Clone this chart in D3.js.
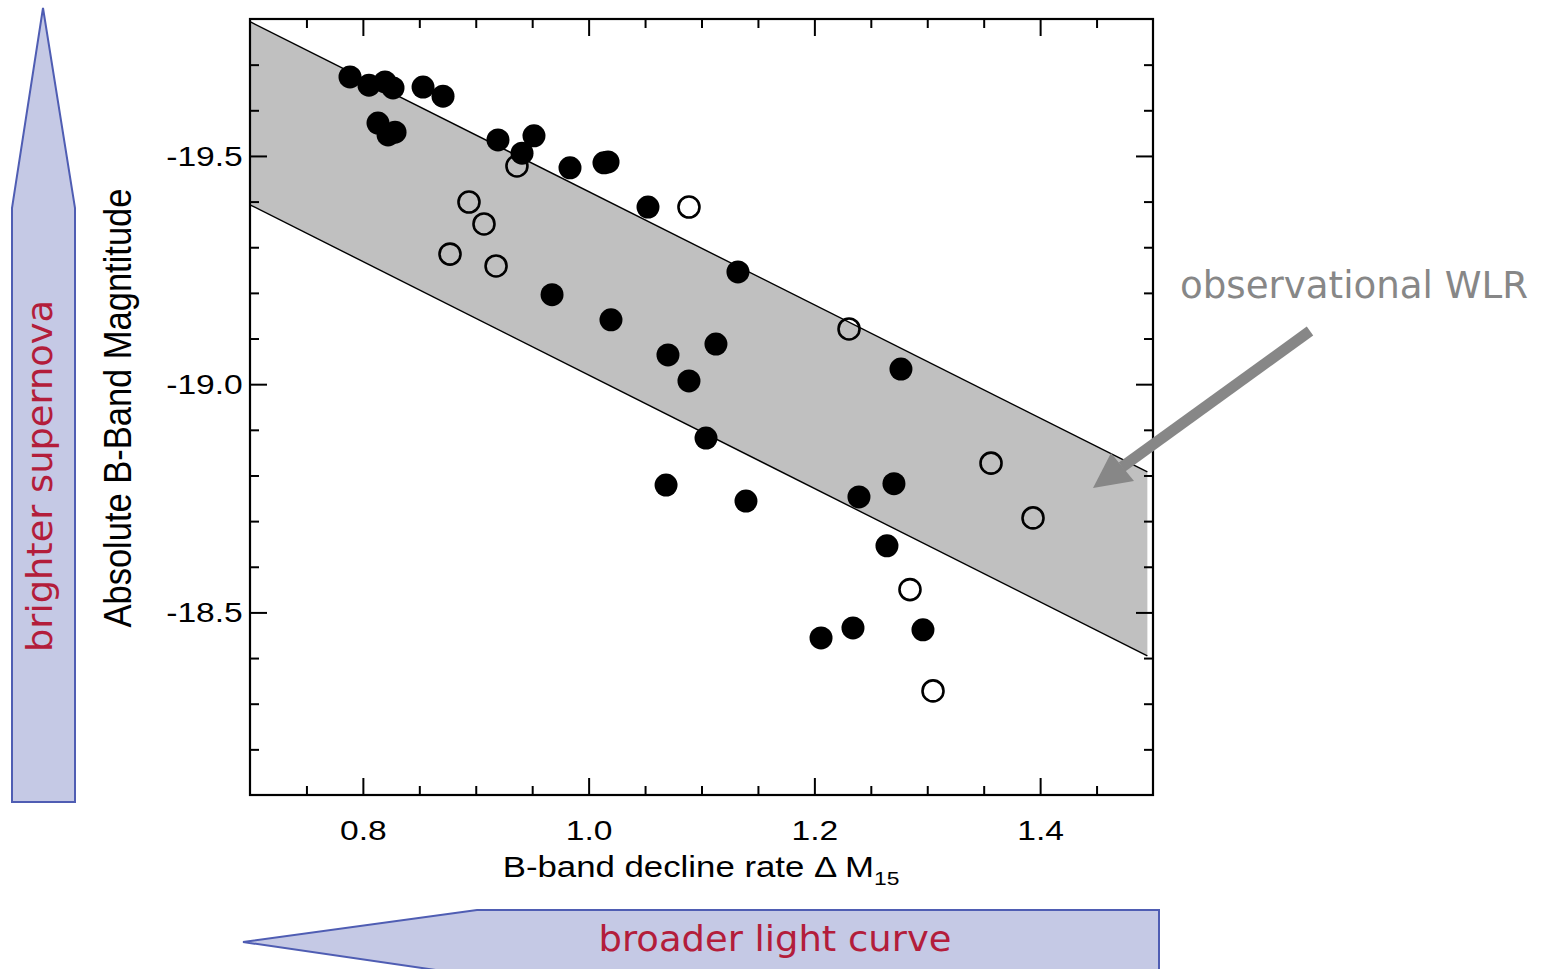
<!DOCTYPE html>
<html>
<head>
<meta charset="utf-8">
<script src="https://cdn.jsdelivr.net/npm/d3@7"></script>
<style>
  html, body { margin: 0; padding: 0; background: #ffffff; overflow: hidden; }
  svg { display: block; }
</style>
</head>
<body>
<svg id="chart" width="1544" height="969"></svg>
<script>
// Type Ia supernovae: B-band decline rate (Δm15) vs. absolute B magnitude
const filledDecline = [0.7886, 0.8054, 0.8196, 0.8267, 0.8533, 0.8710, 0.8134, 0.8223, 0.8285,
  0.9197, 0.9516, 0.9410, 0.9835, 1.0136, 1.0172, 1.0526, 1.1323, 0.9676, 1.0198, 1.0703,
  1.1128, 1.0889, 1.1040, 1.2767, 1.0686, 1.1394, 1.2395, 1.2705, 1.2643, 1.2059, 1.2342, 1.2962];
const filledMag = [-19.673, -19.655, -19.662, -19.649, -19.651, -19.631, -19.572, -19.546, -19.552,
  -19.535, -19.544, -19.506, -19.474, -19.485, -19.487, -19.388, -19.246, -19.196, -19.141, -19.064,
  -19.088, -19.007, -18.882, -19.033, -18.779, -18.744, -18.753, -18.782, -18.646, -18.444, -18.466, -18.462];

const openDecline = [0.9365, 0.8940, 0.9073, 0.8772, 0.9180, 1.0889, 1.2307, 1.3565, 1.3937, 1.2847, 1.3051];
const openMag = [-19.478, -19.399, -19.351, -19.285, -19.259, -19.388, -19.121, -18.827, -18.707, -18.550, -18.328];

// Observed width-luminosity relation band (bright and faint edges)
const bandDecline = [0.7, 1.495];
const bandBright = [-19.794, -18.808];
const bandFaint = [-19.393, -18.405];

const xMajorTicks = [0.8, 1.0, 1.2, 1.4];
const xTickLabels = ["0.8", "1.0", "1.2", "1.4"];
const xMinorTicks = [0.75, 0.85, 0.9, 0.95, 1.05, 1.1, 1.15, 1.25, 1.3, 1.35, 1.45];
const yMajorTicks = [-19.5, -19.0, -18.5];
const yTickLabels = ["-19.5", "-19.0", "-18.5"];
const yMinorTicks = [-19.7, -19.6, -19.4, -19.3, -19.2, -19.1, -18.9, -18.8, -18.7, -18.6, -18.4, -18.3, -18.2];

const plotFont = '"Liberation Sans", Arial, Helvetica, sans-serif';
const noteFont = '"DejaVu Sans", Verdana, sans-serif';

const svg = d3.select("#chart");
const L = 250, R = 1153, T = 19, B = 795;
const x = d3.scaleLinear().domain([0.7, 1.5]).range([L, R]);
const y = d3.scaleLinear().domain([-19.8, -18.1]).range([T, B]);

// ---- side annotations: arrows ----
const arrowFill = "#c5c9e5", arrowStroke = "#4f5db3", noteRed = "#b31d3b";

svg.append("path")
  .attr("d", d3.line()([[12, 802], [12, 208], [43, 8], [75, 208], [75, 802]]) + "Z")
  .attr("fill", arrowFill).attr("stroke", arrowStroke).attr("stroke-width", 2);

svg.append("text")
  .attr("transform", "translate(52,476) rotate(-90)")
  .attr("text-anchor", "middle")
  .attr("font-family", noteFont).attr("font-size", 36)
  .attr("textLength", 352).attr("lengthAdjust", "spacingAndGlyphs")
  .attr("fill", noteRed)
  .text("brighter supernova");

svg.append("path")
  .attr("d", d3.line()([[243, 942], [477, 910], [1159, 910], [1159, 976], [477, 976]]) + "Z")
  .attr("fill", arrowFill).attr("stroke", arrowStroke).attr("stroke-width", 2);

svg.append("text")
  .attr("x", 775).attr("y", 951)
  .attr("text-anchor", "middle")
  .attr("font-family", noteFont).attr("font-size", 36)
  .attr("textLength", 353).attr("lengthAdjust", "spacingAndGlyphs")
  .attr("fill", noteRed)
  .text("broader light curve");

// ---- WLR band ----
const bandRows = bandDecline.map((d, i) => ({ d, hi: bandBright[i], lo: bandFaint[i] }));
svg.append("path")
  .datum(bandRows)
  .attr("d", d3.area().x(r => x(r.d)).y0(r => y(r.lo)).y1(r => y(r.hi)))
  .attr("fill", "#c0c0c0");
[bandBright, bandFaint].forEach(edge => {
  svg.append("path")
    .datum(bandDecline.map((d, i) => [d, edge[i]]))
    .attr("d", d3.line().x(p => x(p[0])).y(p => y(p[1])))
    .attr("fill", "none").attr("stroke", "#000").attr("stroke-width", 1.4);
});

// ---- data points ----
svg.append("g").selectAll("circle")
  .data(openDecline.map((d, i) => [d, openMag[i]]))
  .join("circle")
  .attr("cx", p => x(p[0])).attr("cy", p => y(p[1])).attr("r", 10.5)
  .attr("fill", "none").attr("stroke", "#000").attr("stroke-width", 2.6);

svg.append("g").selectAll("circle")
  .data(filledDecline.map((d, i) => [d, filledMag[i]]))
  .join("circle")
  .attr("cx", p => x(p[0])).attr("cy", p => y(p[1])).attr("r", 11.5)
  .attr("fill", "#000");

// ---- axes (ticks point inward on all four sides) ----
function addAxis(axisFn, scale, pos, values, size, labels) {
  const ax = axisFn(scale).tickValues(values).tickSizeInner(-size).tickSizeOuter(0)
    .tickFormat(labels ? (v, i) => labels[i] : "");
  const g = svg.append("g").attr("transform", pos).call(ax);
  g.select(".domain").remove();
  g.selectAll(".tick line").attr("stroke", "#000").attr("stroke-width", 2);
  return g;
}
const majorLen = 17, minorLen = 9;

const gx = addAxis(d3.axisBottom, x, `translate(0,${B})`, xMajorTicks, majorLen, xTickLabels);
gx.call(ax => ax.selectAll(".tick text")
  .attr("y", 25).attr("fill", "#000")
  .attr("font-family", plotFont).attr("font-size", 28)
  .attr("transform", "scale(1.2,1)"));
addAxis(d3.axisBottom, x, `translate(0,${B})`, xMinorTicks, minorLen);
addAxis(d3.axisTop, x, `translate(0,${T})`, xMajorTicks, majorLen);
addAxis(d3.axisTop, x, `translate(0,${T})`, xMinorTicks, minorLen);

const gy = addAxis(d3.axisLeft, y, `translate(${L},0)`, yMajorTicks, majorLen, yTickLabels);
gy.call(ax => ax.selectAll(".tick text")
  .attr("x", -6).attr("dy", "0.34em").attr("fill", "#000")
  .attr("font-family", plotFont).attr("font-size", 28)
  .attr("transform", "scale(1.2,1)"));
addAxis(d3.axisLeft, y, `translate(${L},0)`, yMinorTicks, minorLen);
addAxis(d3.axisRight, y, `translate(${R},0)`, yMajorTicks, majorLen);
addAxis(d3.axisRight, y, `translate(${R},0)`, yMinorTicks, minorLen);

// plot frame
svg.append("rect")
  .attr("x", L).attr("y", T).attr("width", R - L).attr("height", B - T)
  .attr("fill", "none").attr("stroke", "#000").attr("stroke-width", 2.2);

// axis titles
const xTitle = svg.append("text")
  .attr("transform", "translate(701,877) scale(1.2,1)")
  .attr("text-anchor", "middle")
  .attr("font-family", plotFont).attr("font-size", 29).attr("fill", "#000");
xTitle.append("tspan").text("B-band decline rate \u0394 M");
xTitle.append("tspan").attr("font-size", 19).attr("dy", 8).text("15");

svg.append("text")
  .attr("transform", "translate(131,408) rotate(-90) scale(1,1.15)")
  .attr("text-anchor", "middle")
  .attr("font-family", plotFont).attr("font-size", 34.5).attr("fill", "#000")
  .text("Absolute B-Band Magntitude");

// ---- WLR callout ----
const calloutGray = "#878787";
svg.append("text")
  .attr("x", 1180).attr("y", 298)
  .attr("font-family", noteFont).attr("font-size", 37)
  .attr("textLength", 348).attr("lengthAdjust", "spacingAndGlyphs")
  .attr("fill", calloutGray)
  .text("observational WLR");

svg.append("line")
  .attr("x1", 1310).attr("y1", 331).attr("x2", 1122).attr("y2", 467)
  .attr("stroke", calloutGray).attr("stroke-width", 11);
svg.append("path")
  .attr("d", d3.line()([[1093, 488], [1111, 453], [1134, 481]]) + "Z")
  .attr("fill", calloutGray);
</script>
</body>
</html>
